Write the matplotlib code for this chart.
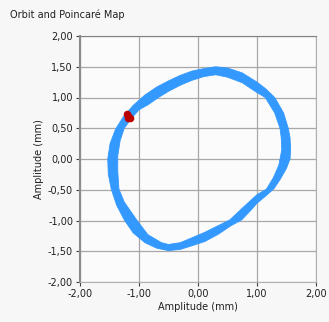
import matplotlib
matplotlib.use("Agg")
import matplotlib.pyplot as plt
from matplotlib.path import Path
from matplotlib.patches import PathPatch
from matplotlib.ticker import FuncFormatter, MultipleLocator

plt.rcParams["font.family"] = ["DejaVu Sans"]

# orbit band edges (mm), counter-clockwise
outer_x = [1.57, 1.56, 1.53, 1.45, 1.30, 1.15, 1.00, 0.75, 0.50, 0.30, 0.10,
           -0.10, -0.30, -0.50, -0.70, -0.90, -1.10, -1.27, -1.40, -1.49,
           -1.53, -1.52, -1.47, -1.38, -1.25, -1.10, -0.90, -0.70, -0.50,
           -0.30, -0.10, 0.12, 0.35, 0.55, 0.74, 0.88, 1.00, 1.15, 1.29,
           1.40, 1.50, 1.56]
outer_y = [0.15, 0.35, 0.50, 0.75, 1.00, 1.14, 1.25, 1.40, 1.48, 1.50, 1.47,
           1.43, 1.36, 1.27, 1.17, 1.04, 0.87, 0.68, 0.48, 0.25,
           0.00, -0.25, -0.49, -0.75, -0.99, -1.20, -1.36, -1.45, -1.49,
           -1.47, -1.41, -1.34, -1.22, -1.09, -0.99, -0.85, -0.72, -0.60,
           -0.48, -0.32, -0.15, 0.00]
inner_x = [1.42, 1.41, 1.39, 1.30, 1.14, 1.00, 0.75, 0.50, 0.30, 0.10, -0.10,
           -0.30, -0.50, -0.67, -0.85, -1.00, -1.12, -1.25, -1.32, -1.36,
           -1.36, -1.34, -1.25, -1.04, -0.85, -0.62, -0.50, -0.30, -0.10,
           0.12, 0.35, 0.54, 0.75, 1.00, 1.16, 1.28, 1.37]
inner_y = [0.15, 0.35, 0.50, 0.75, 1.00, 1.08, 1.24, 1.33, 1.37, 1.34, 1.28,
           1.20, 1.10, 1.00, 0.88, 0.80, 0.67, 0.50, 0.30, 0.05,
           -0.20, -0.49, -0.70, -0.99, -1.23, -1.36, -1.39, -1.36, -1.28,
           -1.19, -1.08, -0.99, -0.80, -0.58, -0.49, -0.30, -0.10]

# poincaré points
poin_x = [-1.18, -1.21, -1.15, -1.19]
poin_y = [0.70, 0.73, 0.67, 0.66]

BG = "#F7F7F7"
PLOT_BG = "#FBFBFB"
BLUE = "#3399FF"
RED = "#BB0000"
GRID = "#A8A8A8"

fig = plt.figure(figsize=(3.29, 3.22), dpi=100, facecolor=BG)
ax = fig.add_axes([80 / 329, 1 - 282 / 322, 236 / 329, 246 / 322])
ax.set_facecolor(PLOT_BG)

# ring = outer loop (ccw) + inner loop reversed (cw) as one compound path
verts = list(zip(outer_x, outer_y)) + [(outer_x[0], outer_y[0])]
codes = [Path.MOVETO] + [Path.LINETO] * (len(outer_x) - 1) + [Path.CLOSEPOLY]
inner = list(zip(inner_x, inner_y))[::-1]
verts += inner + [inner[0]]
codes += [Path.MOVETO] + [Path.LINETO] * (len(inner) - 1) + [Path.CLOSEPOLY]
ax.add_patch(PathPatch(Path(verts, codes), fc=BLUE, ec=BLUE, lw=0.6, zorder=3))

ax.scatter(poin_x, poin_y, s=30, marker="o", color=RED, lw=0, zorder=4)

ax.set_xlim(-2, 2)
ax.set_ylim(-2, 2)
ax.xaxis.set_major_locator(MultipleLocator(1.0))
ax.yaxis.set_major_locator(MultipleLocator(0.5))
fmt = FuncFormatter(lambda v, _: f"{v:.2f}".replace(".", ",").replace("-0,00", "0,00"))
ax.xaxis.set_major_formatter(fmt)
ax.yaxis.set_major_formatter(fmt)
ax.grid(True, color=GRID, lw=0.9, zorder=1)
ax.set_axisbelow(True)

for side in ["top", "right", "bottom"]:
    ax.spines[side].set_color("#B0B0B0")
    ax.spines[side].set_linewidth(0.8)
ax.spines["left"].set_color("#8C8C8C")
ax.spines["left"].set_linewidth(1.5)
ax.spines["top"].set_color("#808080")

ax.tick_params(axis="both", labelsize=7, color="#404040", length=3, width=0.8,
               pad=2, labelcolor="#202020")
ax.set_xlabel("Amplitude (mm)", fontsize=7, color="#202020", labelpad=2)
ax.set_ylabel("Amplitude (mm)", fontsize=7, color="#202020", labelpad=3)

fig.text(10 / 329, 1 - 15 / 322, "Orbit and Poincaré Map", fontsize=7,
         color="#202020", ha="left", va="center")

fig.savefig("out.png", dpi=100, facecolor=BG)
